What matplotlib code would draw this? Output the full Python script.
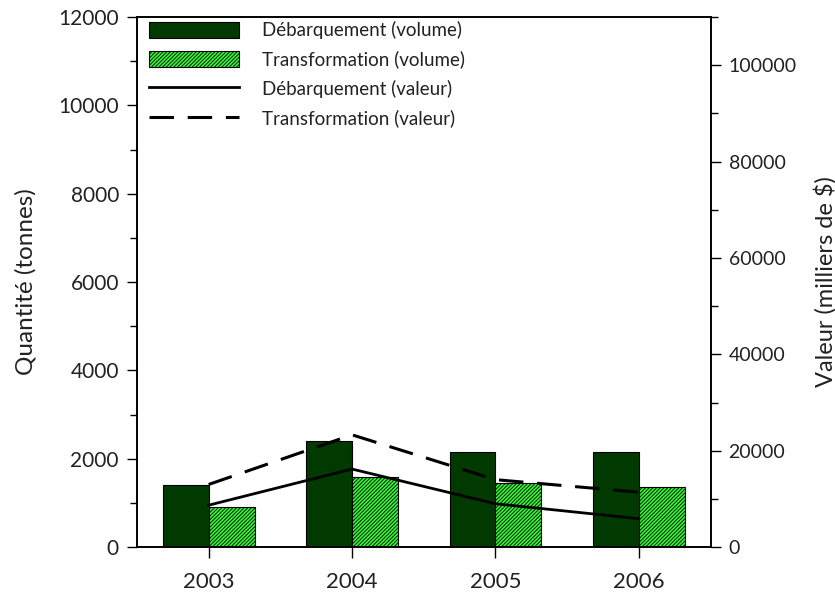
import numpy as np
import matplotlib
matplotlib.use('Agg')
import matplotlib.pyplot as plt
from matplotlib.ticker import MultipleLocator

# data
years = ['2003', '2004', '2005', '2006']
debarq_volume = [1400, 2400, 2150, 2150]       # tonnes
transf_volume = [910, 1580, 1460, 1370]        # tonnes
debarq_valeur = [8700, 16200, 9000, 5900]      # milliers de $
transf_valeur = [13000, 23300, 14000, 11400]   # milliers de $

plt.rcParams['font.family'] = ['Lato', 'DejaVu Sans']
plt.rcParams['hatch.linewidth'] = 0.6
plt.rcParams['hatch.color'] = 'black'

fig = plt.figure(figsize=(8.35, 5.96), dpi=100)
ax = fig.add_axes([0.164, 0.082, 0.687, 0.8895])
ax2 = ax.twinx()

x = np.arange(len(years))
w = 0.32
b1 = ax.bar(x - w/2, debarq_volume, w, color='#013a01', edgecolor='black', linewidth=0.8,
            label='Débarquement (volume)')
b2 = ax.bar(x + w/2, transf_volume, w, color='#33f533', edgecolor='black', linewidth=0.8,
            hatch='/' * 9, label='Transformation (volume)')

l1, = ax2.plot(x, debarq_valeur, color='black', lw=2, label='Débarquement (valeur)')
l2, = ax2.plot(x, transf_valeur, color='black', lw=2.2, dashes=(8, 4.5),
               label='Transformation (valeur)')

ax.set_xlim(-0.5, 3.5)
ax.set_ylim(0, 12000)
ax2.set_ylim(0, 110000)
ax.set_xticks(x)
ax.set_xticklabels(years)

ax.yaxis.set_major_locator(MultipleLocator(2000))
ax.yaxis.set_minor_locator(MultipleLocator(1000))
ax2.yaxis.set_major_locator(MultipleLocator(20000))
ax2.yaxis.set_minor_locator(MultipleLocator(10000))

tc = '#222222'
for a in (ax, ax2):
    a.tick_params(which='major', direction='out', length=7, width=1, labelsize=15,
                  labelcolor=tc, pad=6)
    a.tick_params(which='minor', direction='out', length=5, width=1)
    for s in a.spines.values():
        s.set_linewidth(1.2)
ax2.tick_params(labelsize=14)
ax.tick_params(axis='x', length=8, labelsize=16, pad=10)

ax.set_ylabel('Quantité (tonnes)', fontsize=17.5, color=tc, labelpad=16)
ax2.set_ylabel('Valeur (milliers de $)', fontsize=17, color=tc, labelpad=12)

ax.set_zorder(ax2.get_zorder() - 1)
ax.patch.set_visible(True)
ax2.patch.set_visible(False)

leg = ax2.legend([b1, b2, l1, l2],
                 [b1.get_label(), b2.get_label(), l1.get_label(), l2.get_label()],
                 loc='upper left', frameon=False, fontsize=13.5, handlelength=4.8,
                 handleheight=1.0, handletextpad=1.2, labelspacing=0.6,
                 borderaxespad=0.0, bbox_to_anchor=(0.008, 1.006))
for t in leg.get_texts():
    t.set_color(tc)

fig.savefig('out.png', dpi=100)
